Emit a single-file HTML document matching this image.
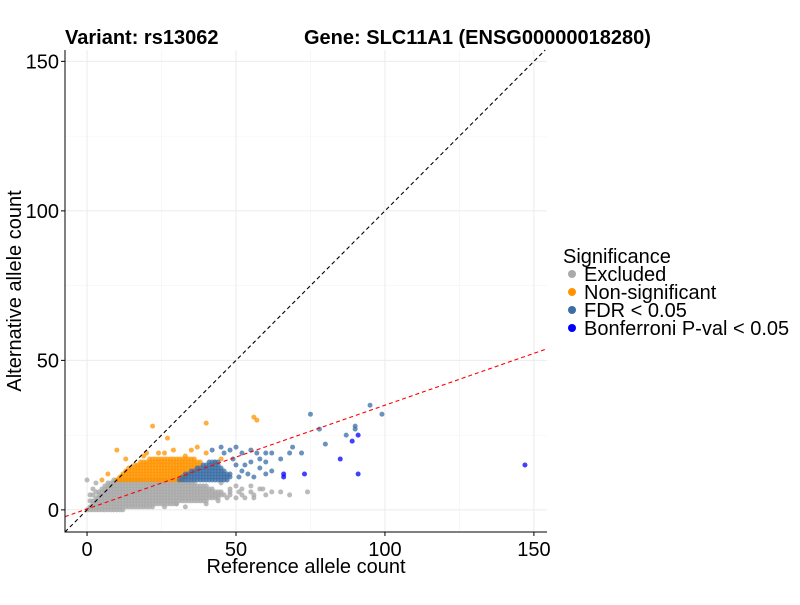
<!DOCTYPE html>
<html><head><meta charset="utf-8"><style>
body{margin:0;background:#fff}
text{font-family:"Liberation Sans",sans-serif}
</style></head><body>
<svg id="chart" width="800" height="600" xmlns="http://www.w3.org/2000/svg">
<rect width="800" height="600" fill="#fff"/>
<g id="grid"></g>
<g id="points"></g>
<g id="lines"></g>
<g id="axes"></g>
<text x="65" y="44" font-size="20" font-weight="bold">Variant: rs13062</text>
<text x="304" y="44" font-size="20" font-weight="bold">Gene: SLC11A1 (ENSG00000018280)</text>
<text x="306" y="573" font-size="20" text-anchor="middle">Reference allele count</text>
<text transform="translate(21,291) rotate(-90)" font-size="20" text-anchor="middle">Alternative allele count</text>
<g>
<text x="563" y="263" font-size="20">Significance</text>
<circle cx="572" cy="274" r="4" fill="#aaaaaa"/><text x="584" y="281" font-size="20">Excluded</text>
<circle cx="572" cy="292" r="4" fill="#ff9400"/><text x="584" y="299" font-size="20">Non-significant</text>
<circle cx="572" cy="310" r="4" fill="#3a6ea5"/><text x="584" y="317" font-size="20">FDR &lt; 0.05</text>
<circle cx="572" cy="328" r="4" fill="#0000ff"/><text x="584" y="335" font-size="20">Bonferroni P-val &lt; 0.05</text>
</g>
</svg>
<script>
const xTicks=[0,50,100,150];
const yTicks=[0,50,100,150];
const minorTicks=[25,75,125];
// row spans: [y, xStart, xEnd]
const excludedRows=[[0,1,12],[1,1,22],[2,2,30],[3,2,40],[4,3,44],[5,4,46],[6,4,45],[7,5,42],[8,6,40],[9,7,36],[10,9,32]];
const excludedExtra=[[0,0],[1,3],[1,5],[2,7],[3,9],[2,5],[3,6],[0,10],[44,3],[47,4],[50,4],[53,4],[48,5],[52,5],[56,5],[60,5],[48,6],[51,6],[55,6],[65,6],[48,7],[52,7],[58,7],[62,6],[50,8],[55,8],[45,9],[74,6],[68,5],[26,1],[30,2],[33,1],[40,2],[56,4],[59,7]];
const nonsigRows=[[10,10,32],[11,11,33],[12,12,34],[13,13,36],[14,14,37],[15,16,38],[16,18,38],[17,21,36]];
const nonsigExtra=[[10,20],[20,19],[22,28],[27,24],[35,20],[40,29],[56,31],[57,30],[5,10],[7,12],[24,19],[26,19],[29,20],[33,18],[19,18],[13,17],[37,21],[40,19],[45,17],[43,16]];
const fdrRows=[[10,31,47],[11,32,48],[12,33,48],[13,35,46],[14,37,45],[15,39,44],[16,41,44]];
const fdrExtra=[[42,20],[45,21],[48,20],[50,21],[52,19],[55,20],[57,19],[60,19],[62,19],[65,17],[68,19],[69,21],[72,19],[75,32],[78,27],[80,22],[55,16],[60,16],[58,14],[50,15],[52,13],[54,12],[56,11],[60,12],[62,13],[58,17],[49,17],[46,19],[95,35],[99,32],[90,27],[90,28],[87,25],[51,11],[53,15]];
const bonfPoints=[[66,12],[66,11],[73,12],[85,17],[89,23],[91,25],[91,12],[147,15]];
const diagSlope=1, redSlope=0.347, redIntercept=0.3;
const X0=-7.4,X1=154.4,Y0=-7.4,Y1=153.8,PL=65,PR=547,PT=50,PB=532;
const sx=v=>PL+(v-X0)/(X1-X0)*(PR-PL);
const sy=v=>PB-(v-Y0)/(Y1-Y0)*(PB-PT);
const NS="http://www.w3.org/2000/svg";
function mk(tag,parent,attrs){const e=document.createElementNS(NS,tag);for(const k in attrs)e.setAttribute(k,attrs[k]);document.getElementById(parent).appendChild(e);return e;}
minorTicks.forEach(t=>{
 let a=mk('line','grid',{x1:sx(t),x2:sx(t),y1:PT,y2:PB,stroke:'#f2f2f2','stroke-width':0.6});
 
 let b=mk('line','grid',{x1:PL,x2:PR,y1:sy(t),y2:sy(t),stroke:'#f2f2f2','stroke-width':0.6});
 
});
xTicks.forEach(t=>{
 let a=mk('line','grid',{x1:sx(t),x2:sx(t),y1:PT,y2:PB,stroke:'#ebebeb','stroke-width':1});
 
 let tk=mk('line','axes',{x1:sx(t),x2:sx(t),y1:PB,y2:PB+4,stroke:'#000'});
 
 let l=mk('text','axes',{x:sx(t),y:PB+24,'font-size':20,'text-anchor':'middle'});l.textContent=t;
 
});
yTicks.forEach(t=>{
 let a=mk('line','grid',{x1:PL,x2:PR,y1:sy(t),y2:sy(t),stroke:'#ebebeb','stroke-width':1});
 
 let tk=mk('line','axes',{x1:PL-4,x2:PL,y1:sy(t),y2:sy(t),stroke:'#000'});
 
 let l=mk('text','axes',{x:PL-6,y:sy(t)+7,'font-size':20,'text-anchor':'end'});l.textContent=t;
 
});
let ax=mk('path','axes',{d:`M${PL},${PT}V${PB}H${PR}`,fill:'none',stroke:'#000','stroke-width':1});

function pts(rows,extra){const o=[];rows.forEach(r=>{for(let x=r[1];x<=r[2];x++)o.push([x,r[0]]);});return o.concat(extra);}
function draw(list,color,op,name){list.forEach(p=>{let c=mk('circle','points',{cx:sx(p[0]),cy:sy(p[1]),r:2.5,fill:color,'fill-opacity':op});
 });}
draw(pts(excludedRows,excludedExtra),'#aaaaaa',0.8,'point-excluded');
draw(pts(nonsigRows,nonsigExtra),'#ff9400',0.75,'point-nonsignificant');
draw(pts(fdrRows,fdrExtra),'#3a6ea5',0.75,'point-fdr');
draw(bonfPoints,'#0000ff',0.75,'point-bonferroni');
let d=mk('line','lines',{x1:sx(X0),y1:sy(X0*diagSlope),x2:sx(Y1/diagSlope),y2:sy(Y1),stroke:'#000','stroke-dasharray':'4,3','stroke-width':1.1});

let r=mk('line','lines',{x1:sx(X0),y1:sy(X0*redSlope+redIntercept),x2:sx(X1),y2:sy(X1*redSlope+redIntercept),stroke:'#ff0000','stroke-dasharray':'4,3','stroke-width':1.1});

</script>
</body></html>
